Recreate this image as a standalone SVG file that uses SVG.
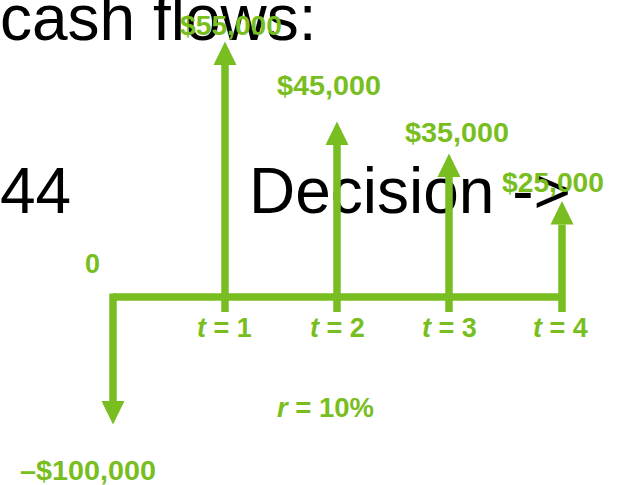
<svg xmlns="http://www.w3.org/2000/svg" width="619" height="485" viewBox="0 0 619 485">
<defs>
<style>
.big{font-family:"Liberation Sans",Arial,sans-serif;font-size:64px;fill:#000}
.lbl{font-family:"Liberation Sans",Arial,sans-serif;font-weight:bold;font-size:27px;fill:#78BE20}
.ln{stroke:#78BE20;stroke-width:7.5;fill:none}
</style>
<marker id="ah" markerUnits="userSpaceOnUse" markerWidth="26" markerHeight="26" viewBox="0 -13 26 26" refX="0" refY="0" orient="auto">
<path d="M0,-11.5 L23.5,0 L0,11.5 z" fill="#78BE20"/>
</marker>
</defs>
<rect width="619" height="485" fill="#fff"/>
<g id="title">
<text class="big" x="0" y="40">cash flows:</text>
<text class="big" x="0" y="213">44</text>
<text class="big" x="249" y="213">Decision -&gt;</text>
</g>
<g id="connectors">
<path class="ln" d="M113,297 H565"/>
<path class="ln" d="M113,293.5 V401" marker-end="url(#ah)"/>
<path class="ln" d="M225,312 V65" marker-end="url(#ah)"/>
<path class="ln" d="M337,312 V145" marker-end="url(#ah)"/>
<path class="ln" d="M449,312 V177" marker-end="url(#ah)"/>
<path class="ln" d="M562,312 V224.5" marker-end="url(#ah)"/>
</g>
<g id="cf0"><text class="lbl" x="85" y="273">0</text></g>
<g id="cfneg"><text class="lbl" x="20" y="480" textLength="136" lengthAdjust="spacingAndGlyphs">–$100,000</text></g>
<g id="cf1"><text class="lbl" x="180" y="35" textLength="102" lengthAdjust="spacingAndGlyphs">$55,000</text></g>
<g id="cf2"><text class="lbl" x="277" y="95" textLength="104" lengthAdjust="spacingAndGlyphs">$45,000</text></g>
<g id="cf3"><text class="lbl" x="405" y="142" textLength="104" lengthAdjust="spacingAndGlyphs">$35,000</text></g>
<g id="cf4"><text class="lbl" x="502" y="192" textLength="102" lengthAdjust="spacingAndGlyphs">$25,000</text></g>
<g id="t1"><text class="lbl" x="197" y="337"><tspan font-style="italic">t</tspan> = 1</text></g>
<g id="t2"><text class="lbl" x="310" y="337"><tspan font-style="italic">t</tspan> = 2</text></g>
<g id="t3"><text class="lbl" x="422" y="337"><tspan font-style="italic">t</tspan> = 3</text></g>
<g id="t4"><text class="lbl" x="533" y="337"><tspan font-style="italic">t</tspan> = 4</text></g>
<g id="rate"><text class="lbl" x="277" y="417" textLength="97" lengthAdjust="spacingAndGlyphs"><tspan font-style="italic">r</tspan> = 10%</text></g>
</svg>
